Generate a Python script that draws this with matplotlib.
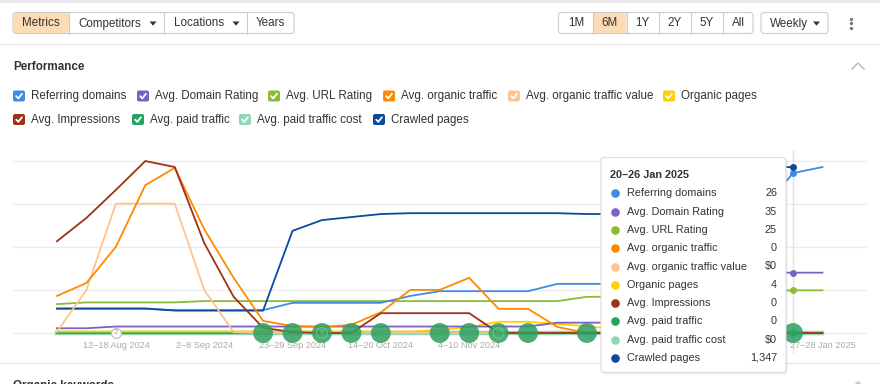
import matplotlib
matplotlib.use('Agg')
import matplotlib.pyplot as plt
from matplotlib.patches import FancyBboxPatch, Rectangle, Polygon
import numpy as np

plt.rcParams['font.family'] = ['Liberation Sans', 'DejaVu Sans']

# ---- data (chart units: one gridline = 1) ----
weeks = ['29 Jul–4 Aug 2024', '5–11 Aug 2024', '12–18 Aug 2024', '19–25 Aug 2024',
         '26 Aug–1 Sep 2024', '2–8 Sep 2024', '9–15 Sep 2024', '16–22 Sep 2024',
         '23–29 Sep 2024', '30 Sep–6 Oct 2024', '7–13 Oct 2024', '14–20 Oct 2024',
         '21–27 Oct 2024', '28 Oct–3 Nov 2024', '4–10 Nov 2024', '11–17 Nov 2024',
         '18–24 Nov 2024', '25 Nov–1 Dec 2024', '2–8 Dec 2024', '9–15 Dec 2024',
         '16–22 Dec 2024', '23–29 Dec 2024', '30 Dec–5 Jan 2025', '6–12 Jan 2025',
         '13–19 Jan 2025', '20–26 Jan 2025', '27–28 Jan 2025']
shown_ticks = [2, 5, 8, 11, 14, 26]

referring_domains = [0.56, 0.56, 0.56, 0.56, 0.53, 0.53, 0.53, 0.53, 0.70, 0.70, 0.70, 0.70, 0.86, 0.97,
                     0.97, 0.97, 0.97, 1.14, 1.14, 1.14, 1.14, 1.50, 2.00, 2.50, 2.90, 3.71, 3.85]
domain_rating = [0.11, 0.11, 0.15, 0.15, 0.15, 0.15, 0.15, 0.15, 0.15, 0.15, 0.15, 0.15, 0.15, 0.15,
                 0.15, 0.15, 0.15, 0.24, 0.24, 0.24, 0.24, 0.24, 0.60, 1.20, 1.40, 1.40, 1.40]
url_rating = [0.67, 0.71, 0.71, 0.71, 0.71, 0.74, 0.74, 0.74, 0.74, 0.74, 0.74, 0.74, 0.74, 0.74,
              0.74, 0.74, 0.74, 0.74, 0.84, 0.84, 0.84, 0.84, 0.90, 0.98, 0.98, 0.99, 0.99]
organic_traffic = [0.86, 1.16, 2.00, 3.43, 3.83, 2.41, 1.28, 0.28, 0.16, 0.14, 0.19, 0.48, 1.00, 1.00,
                   1.28, 0.56, 0.56, 0.14, 0, 0, 0, 0, 0, 0, 0, 0, 0]
organic_value = [0.03, 1.00, 3.00, 3.00, 3.00, 1.00, 0.02, 0, 0, 0, 0, 0, 0, 0,
                 0, 0, 0, 0, 0, 0, 0, 0, 0, 0, 0, 0, 0]
organic_pages = [0.035, 0.035, 0.035, 0.035, 0.035, 0.035, 0.035, 0.035, 0.035, 0.035, 0.035, 0.035, 0.035, 0.07,
                 0.14, 0.26, 0.26, 0.21, 0.16, 0.08, 0.05, 0.03, 0.02, 0.02, 0.01, 0.01, 0.01]
impressions = [2.13, 2.67, 3.32, 3.99, 3.85, 2.09, 0.84, 0.12, 0.02, 0, 0, 0.46, 0.46, 0.46,
               0.46, 0, 0, 0, 0, 0, 0, 0, 0, 0, 0, 0, 0]
paid_traffic = [0, 0, 0, 0, 0, 0, 0, 0, 0, 0, 0, 0, 0, 0, 0, 0, 0, 0, 0, 0, 0, 0, 0, 0, 0, 0, 0]
paid_cost = [0, 0, 0, 0, 0, 0, 0, 0, 0, 0, 0, 0, 0, 0, 0, 0, 0, 0, 0, 0, 0, 0, 0, 0, 0, 0, 0]
crawled_pages = [0.57, 0.57, 0.57, 0.57, 0.52, 0.52, 0.52, 0.52, 2.37, 2.62, 2.69, 2.76, 2.78, 2.78,
                 2.78, 2.78, 2.78, 2.78, 2.76, 2.76, 2.77, 3.40, 3.80, 3.84, 3.85, 3.85, np.nan]

paid_dots = [7, 8, 9, 10, 11, 13, 14, 15, 16, 18, 25]
notes = {2: '2', 9: 'a', 15: 'G'}
hover = 25

metric_names = ['Referring domains', 'Avg. Domain Rating', 'Avg. URL Rating', 'Avg. organic traffic',
                'Avg. organic traffic value', 'Organic pages', 'Avg. Impressions', 'Avg. paid traffic',
                'Avg. paid traffic cost', 'Crawled pages']
metric_colors = ['#3b8ee3', '#7c60c8', '#8cbc34', '#ff8a00', '#ffc38d', '#ffd100', '#9e3217',
                 '#25a461', '#8fd8b4', '#0b4a9c']
tooltip_values = ['26', '35', '25', '0', r'\$0', '4', '0', '0', r'\$0', '1,347']

# ---- figure in pixel space ----
W, H = 880, 384
X0, DX, Y0, DY = 57, 29.44, 333, 43.1   # index 0 at x=57px, baseline at y=333px
TXT = '#333333'

fig = plt.figure(figsize=(W / 100, H / 100), dpi=100, facecolor='white')


def pixel_axes(z):
    a = fig.add_axes([0, 0, 1, 1], zorder=z)
    a.set_xlim(0, W)
    a.set_ylim(H, 0)
    a.axis('off')
    return a


ui = pixel_axes(0)
ax = fig.add_axes([0, 0, 1, 1], zorder=1)
ax.set_xlim(-X0 / DX, (W - X0) / DX)
ax.set_ylim((Y0 - H) / DY, Y0 / DY)
ax.axis('off')
tip = pixel_axes(2)


def rbox(a, x, y, w, h, fc, ec='none', r=3, lw=1, z=1):
    a.add_patch(FancyBboxPatch((x, y), w, h, boxstyle=f'round,pad=0,rounding_size={r}',
                               fc=fc, ec=ec, lw=lw, zorder=z))


def tri(a, x, y):
    a.add_patch(Polygon([[x - 3.5, y - 2], [x + 3.5, y - 2], [x, y + 2.2]], closed=True,
                        fc=TXT, ec='none'))


# top strip and separators
ui.add_patch(Rectangle((0, 0), W, 2.5, fc='#ebebeb', ec='none'))
ui.plot([0, W], [44, 44], color='#e6e6e6', lw=1)
ui.plot([0, W], [362.5, 362.5], color='#e6e6e6', lw=1)

# left button group
rbox(ui, 13, 12.5, 281, 21, 'white', '#cccccc', lw=0.8)
rbox(ui, 13.5, 13, 55.5, 20, '#fddcb5', 'none', r=2.5)
for xd in [69, 164, 247]:
    ui.plot([xd, xd], [12.5, 33.5], color='#cccccc', lw=0.8)
fs_btn = 8.4
ui.text(41, 23.5, 'Metrics', ha='center', va='center', fontsize=fs_btn, color=TXT)
ui.text(78, 23.5, 'Competitors', ha='left', va='center', fontsize=fs_btn, color=TXT)
tri(ui, 153, 23.5)
ui.text(174, 23.5, 'Locations', ha='left', va='center', fontsize=fs_btn, color=TXT)
tri(ui, 236, 23.5)
ui.text(270.5, 23.5, 'Years', ha='center', va='center', fontsize=fs_btn, color=TXT)

# right button group
rbox(ui, 558.5, 12.5, 194.5, 21, 'white', '#cccccc', lw=0.8)
rbox(ui, 593, 13, 33.5, 20, '#fddcb5', 'none', r=0.5)
for xd in [593, 626.5, 658.5, 690.5, 723]:
    ui.plot([xd, xd], [12.5, 33.5], color='#cccccc', lw=0.8)
for lab, xc in zip(['1M', '6M', '1Y', '2Y', '5Y', 'All'], [576, 610, 642.5, 674.5, 707, 738]):
    ui.text(xc, 23.5, lab, ha='center', va='center', fontsize=fs_btn, color=TXT)
rbox(ui, 761, 12.5, 67, 21, 'white', '#cccccc', lw=0.8)
ui.text(770, 23.5, 'Weekly', ha='left', va='center', fontsize=fs_btn, color=TXT)
tri(ui, 816.5, 23.5)
for yd in [19, 23.3, 27.6]:
    ui.plot(850.7, yd, 'o', ms=2.4, color='#777777', mec='none')

# section header
ui.text(13, 67, 'Performance', ha='left', va='center', fontsize=8.4, fontweight='bold', color=TXT)
ui.plot([852, 858, 864], [69, 63, 69], color='#c0c0c0', lw=1.2)
ui.text(13, 389, 'Organic keywords', ha='left', va='baseline', fontsize=8.4, fontweight='bold', color=TXT)
ui.plot([852, 858, 864], [388, 382, 388], color='#c0c0c0', lw=1.2)

# legend checkboxes
legend_pos = [(13, 96), (137, 96), (268, 96), (383, 96), (508, 96), (663, 96),
              (13, 119.5), (132, 119.5), (239, 119.5), (373, 119.5)]
for name, col, (lx, ly) in zip(metric_names, metric_colors, legend_pos):
    rbox(ui, lx, ly - 5.5, 12, 11, col, r=2)
    ui.plot([lx + 3.2, lx + 5.3, lx + 8.9], [ly + 0.2, ly + 2.4, ly - 2.2], color='white', lw=1.3,
            solid_capstyle='round', solid_joinstyle='round')
    ui.text(lx + 18, ly, name, ha='left', va='center', fontsize=8.4, color=TXT)

# ---- chart ----
ax.hlines([0, 1, 2, 3, 4], (13 - X0) / DX, (866 - X0) / DX, color='#ececec', lw=1, zorder=0)

x = np.arange(len(weeks))
series = dict(zip(metric_names, [referring_domains, domain_rating, url_rating, organic_traffic,
                                 organic_value, organic_pages, impressions, paid_traffic,
                                 paid_cost, crawled_pages]))
colors = dict(zip(metric_names, metric_colors))
draw_order = ['Avg. paid traffic cost', 'Avg. paid traffic', 'Organic pages', 'Avg. URL Rating',
              'Avg. Domain Rating', 'Referring domains', 'Crawled pages', 'Avg. organic traffic value',
              'Avg. organic traffic', 'Avg. Impressions']
widths = {'Avg. paid traffic cost': 3.2}
for i, name in enumerate(draw_order):
    ax.plot(x, series[name], color=colors[name], lw=widths.get(name, 1.3), zorder=2 + i * 0.1,
            solid_joinstyle='round')

# hover line
ax.plot([hover, hover], [(Y0 - 352) / DY, (Y0 - 150) / DY], color='#e3e3e3', lw=1, zorder=1)

# paid traffic bubbles and annotations
ax.scatter(paid_dots, [paid_traffic[i] for i in paid_dots], s=205, color='#2e9f5f', alpha=0.85,
           edgecolors='none', zorder=5)
for i, lab in notes.items():
    if lab == '2':
        ax.scatter([i], [0], s=50, fc='white', ec='#bdbdbd', lw=0.8, zorder=6)
        ax.text(i, 0, lab, ha='center', va='center', fontsize=5.5, color='#999999', zorder=7)
    else:
        ax.scatter([i], [0], s=60, fc='none', ec='#6fc291', lw=0.8, zorder=6)
        ax.text(i, 0, lab, ha='center', va='center', fontsize=6, color='#6fc291', zorder=7)

# hover markers
for name in ['Referring domains', 'Avg. Domain Rating', 'Avg. URL Rating', 'Crawled pages', 'Avg. paid traffic']:
    v = series[name][hover]
    ax.plot(hover, v, 'o', ms=5, color=colors[name], mec='none', zorder=8)

# x labels
for i in shown_ticks:
    ax.text(i, (Y0 - 346) / DY, weeks[i], ha='center', va='center', fontsize=6.6, color='#aaaaaa',
            zorder=3)

# ---- tooltip ----
tip.add_patch(FancyBboxPatch((602.5, 159.5), 185, 215, boxstyle='round,pad=0,rounding_size=3',
                             fc=(0, 0, 0, 0.06), ec='none', zorder=1))
rbox(tip, 601, 157.5, 185, 215, 'white', '#dcdcdc', r=3, lw=0.8, z=2)
tip.text(610, 174.5, weeks[hover], ha='left', va='center', fontsize=7.8, fontweight='bold', color=TXT, zorder=3)
for k, (name, col, val) in enumerate(zip(metric_names, metric_colors, tooltip_values)):
    yy = 193.3 + k * 18.3
    tip.plot(615, yy, 'o', ms=6.2, color=col, mec='none', zorder=3)
    tip.text(627, yy, name, ha='left', va='center', fontsize=7.8, color=TXT, zorder=3)
    tip.text(777, yy, val, ha='right', va='center', fontsize=7.8, color=TXT, zorder=3)

fig.savefig('out.png', dpi=100, facecolor='white')
